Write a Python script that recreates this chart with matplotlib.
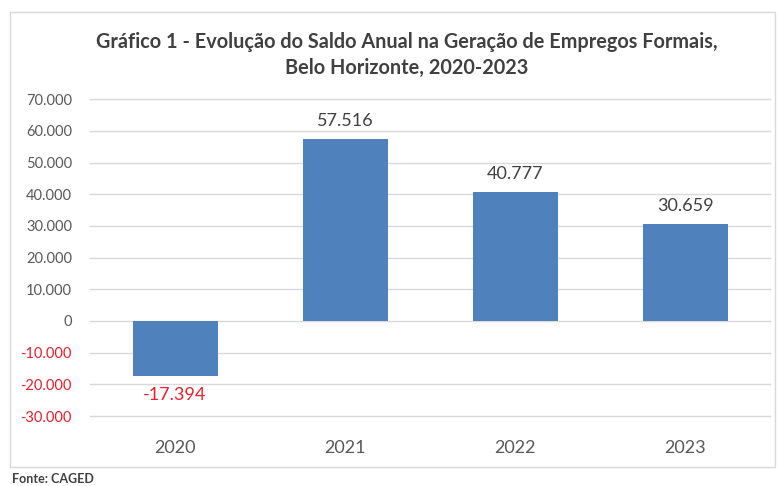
import numpy as np
import matplotlib
matplotlib.use("Agg")
import matplotlib.pyplot as plt
from matplotlib.patches import Rectangle
from matplotlib.ticker import FuncFormatter

plt.rcParams['font.family'] = ['Lato', 'DejaVu Sans']

# data
anos = ['2020', '2021', '2022', '2023']
saldo = [-17394, 57516, 40777, 30659]
rotulos = ['-17.394', '57.516', '40.777', '30.659']

bar_color = '#4f81bd'
text_color = '#595959'
red = '#e8202a'

fig = plt.figure(figsize=(7.8, 4.86), dpi=100)
ax = fig.add_axes([0.1154, 0.144, 0.8718, 0.652])

x = np.arange(len(anos))
ax.bar(x, saldo, width=0.5, color=bar_color, zorder=3)

ax.set_xlim(-0.5, 3.5)
ax.set_ylim(-30000, 70000)
ax.set_yticks(np.arange(-30000, 70001, 10000))

def fmt(v, pos):
    if v == 0:
        return '0'
    return f'{v:,.0f}'.replace(',', '.')
ax.yaxis.set_major_formatter(FuncFormatter(fmt))

ax.grid(axis='y', color='#d9d9d9', linewidth=1, zorder=0, clip_on=False)
for gl in ax.get_ygridlines():
    gl.set_clip_on(False)
for s in ax.spines.values():
    s.set_visible(False)
ax.tick_params(axis='both', length=0)
ax.tick_params(axis='y', labelsize=10.5, labelcolor=text_color, pad=13)
for lab, v in zip(ax.get_yticklabels(), ax.get_yticks()):
    if v < 0:
        lab.set_color(red)

ax.set_xticks(x)
ax.set_xticklabels(anos, fontsize=13, color=text_color)
ax.tick_params(axis='x', pad=17)

for xi, v, t in zip(x, saldo, rotulos):
    if v >= 0:
        ax.annotate(t, (xi, v), xytext=(0, 7), textcoords='offset points',
                    ha='center', va='bottom', fontsize=13, color='#404040')
    else:
        ax.annotate(t, (xi, v), xytext=(0, -8), textcoords='offset points',
                    ha='center', va='top', fontsize=13, color=red)

fig.text(0.522, 1 - 55/486, 'Gráfico 1 - Evolução do Saldo Anual na Geração de Empregos Formais,\nBelo Horizonte, 2020-2023',
         ha='center', va='center', fontsize=14.3, fontweight='bold', color='#404040', linespacing=1.35)

fig.patches.append(Rectangle((10/780, 1-467/486), 765/780, 455/486, transform=fig.transFigure,
                             fill=False, edgecolor='#d9d9d9', linewidth=1))
fig.text(12/780, 1-479/486, 'Fonte: CAGED', fontsize=9, fontweight='bold', color='#404040', va='center')

fig.savefig('out.png', dpi=100)
